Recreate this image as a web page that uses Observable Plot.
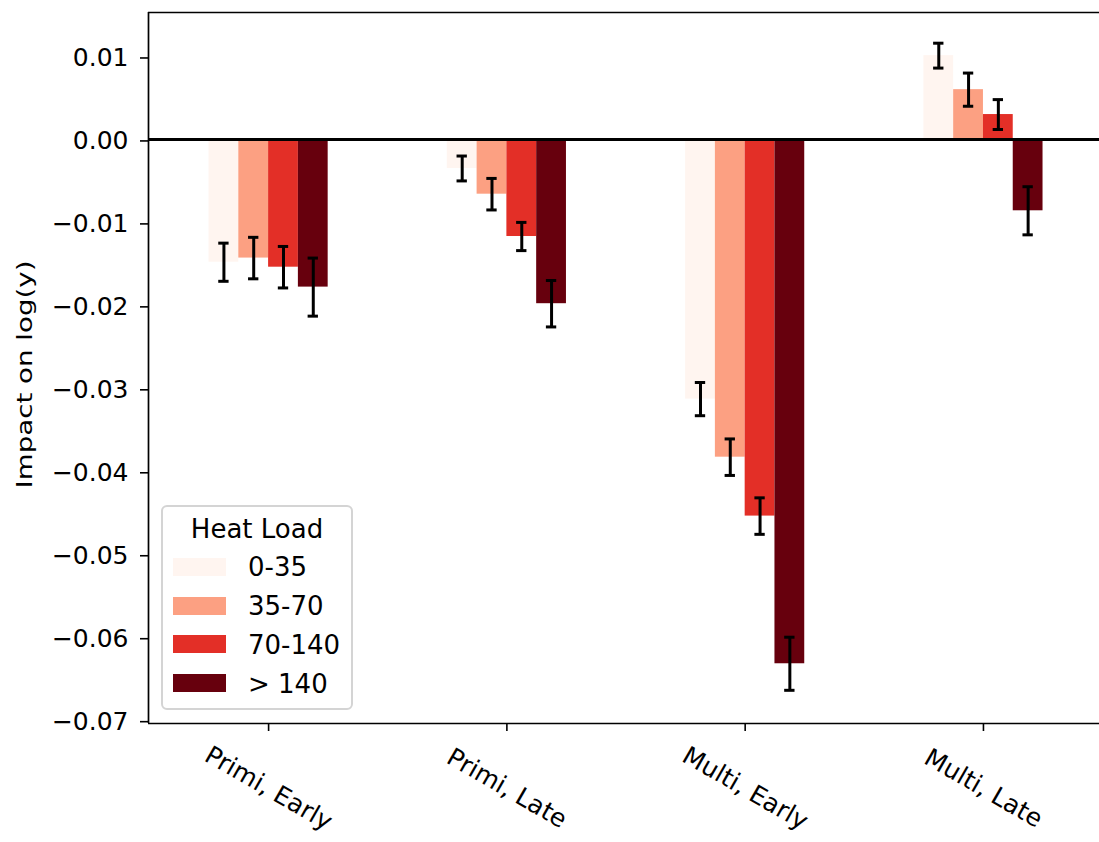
<!DOCTYPE html>
<html>
<head>
<meta charset="utf-8">
<script src="https://cdn.jsdelivr.net/npm/d3@7"></script>
<script src="https://cdn.jsdelivr.net/npm/@observablehq/plot@0.6"></script>
<style>
  html, body { margin: 0; padding: 0; background: #fff; overflow: hidden; }
  #wrap { position: relative; width: 1099px; height: 842px; font-family: "DejaVu Sans", sans-serif; }
  #legend { position: absolute; left: 161px; top: 505px; width: 192px; height: 205px; box-sizing: border-box;
            border: 2px solid #d4d4d4; border-radius: 6px; background: rgba(255,255,255,0.8); }
  #legend div { position: absolute; }
  #legend .lt { font-size: 26px; line-height: 26px; color: #000; white-space: nowrap; }
</style>
</head>
<body>
<div id="wrap"></div>
<script>
// ---- data ----
const categories = ["Primi, Early", "Primi, Late", "Multi, Early", "Multi, Late"];
const heatLoads = ["0-35", "35-70", "70-140", "> 140"];
const colors = ["#fff5f0", "#fca082", "#e32f27", "#67000d"];
const legendTitle = "Heat Load";
const yLabel = "Impact on log(y)";

// estimates per heat load, in category order
const est_0_35   = [-0.0148, -0.0035, -0.0313,  0.0101];
const est_35_70  = [-0.0143, -0.0066, -0.0383,  0.0060];
const est_70_140 = [-0.0154, -0.0117, -0.0454,  0.0030];
const est_gt140  = [-0.0178, -0.0198, -0.0632, -0.0086];
// half-widths of error bars
const err_0_35   = [0.0023, 0.0015, 0.0020, 0.0015];
const err_35_70  = [0.0025, 0.0019, 0.0022, 0.0020];
const err_70_140 = [0.0025, 0.0017, 0.0022, 0.0018];
const err_gt140  = [0.0035, 0.0028, 0.0032, 0.0029];

const yTicks = [0.01, 0.00, -0.01, -0.02, -0.03, -0.04, -0.05, -0.06, -0.07];

// ---- build table ----
const estimates = [est_0_35, est_35_70, est_70_140, est_gt140];
const errors = [err_0_35, err_35_70, err_70_140, err_gt140];
const groupWidth = 0.5;
const barWidth = groupWidth / heatLoads.length;
const rows = [];
categories.forEach((cat, i) => {
  heatLoads.forEach((load, j) => {
    const x1 = i - groupWidth / 2 + j * barWidth;
    rows.push({cat, load, x1, x2: x1 + barWidth, xc: x1 + barWidth / 2,
               value: estimates[j][i], err: errors[j][i]});
  });
});
const capHalf = 0.0217;

const chart = Plot.plot({
  width: 1099,
  height: 842,
  marginLeft: 148,
  marginRight: 0,
  marginTop: 12,
  marginBottom: 119,
  x: {type: "linear", domain: [-0.504, 3.487], axis: null},
  y: {domain: [-0.0704, 0.0153], axis: null},
  color: {domain: heatLoads, range: colors},
  style: {fontFamily: "DejaVu Sans, sans-serif", fontSize: "25px", color: "black", background: "white"},
  marks: [
    Plot.rectY(rows, {x1: "x1", x2: "x2", y1: 0, y2: "value", fill: "load"}),
    Plot.ruleY([0], {stroke: "black", strokeWidth: 3}),
    Plot.ruleX(rows, {x: "xc", y1: d => d.value - d.err, y2: d => d.value + d.err, stroke: "black", strokeWidth: 3}),
    Plot.ruleY(rows, {y: d => d.value - d.err, x1: d => d.xc - capHalf, x2: d => d.xc + capHalf, stroke: "black", strokeWidth: 3}),
    Plot.ruleY(rows, {y: d => d.value + d.err, x1: d => d.xc - capHalf, x2: d => d.xc + capHalf, stroke: "black", strokeWidth: 3}),
    // spines
    Plot.ruleY([-0.0704, 0.0153], {stroke: "black", strokeWidth: 1.7}),
    Plot.ruleX([-0.504], {stroke: "black", strokeWidth: 1.7}),
    // axes
    Plot.axisY(yTicks, {tickSize: 8, tickPadding: 12, dy: 1.5, tickFormat: d3.format(".2f"), fontSize: 25, label: null, strokeWidth: 1.6}),
    Plot.axisX(d3.range(categories.length), {tickSize: 8, tickFormat: () => "", label: null, strokeWidth: 1.6}),
    Plot.text(categories, {x: (d, i) => i, frameAnchor: "bottom", dy: 65, rotate: 30, textAnchor: "middle", lineAnchor: "middle", fontSize: 25}),
    Plot.text([yLabel], {frameAnchor: "left", dx: -124, dy: 6.5, rotate: -90, textAnchor: "middle", lineAnchor: "middle", fontSize: 22})
  ]
});

d3.select(chart).selectAll("text").filter(function () { return this.textContent === yLabel; })
  .attr("textLength", 228).attr("lengthAdjust", "spacingAndGlyphs");

const wrap = document.getElementById("wrap");
wrap.appendChild(chart);

// legend overlay (inside the axes, lower left)
const legend = document.createElement("div");
legend.id = "legend";
const title = document.createElement("div");
title.className = "lt";
title.style.left = "0px"; title.style.width = "100%"; title.style.textAlign = "center"; title.style.top = "9px";
title.textContent = legendTitle;
legend.appendChild(title);
heatLoads.forEach((load, k) => {
  const sw = document.createElement("div");
  sw.style.left = "10px"; sw.style.top = (50.7 + 38.8 * k) + "px";
  sw.style.width = "53px"; sw.style.height = "18px"; sw.style.background = colors[k];
  legend.appendChild(sw);
  const lb = document.createElement("div");
  lb.className = "lt";
  lb.style.left = "85px"; lb.style.top = (47.2 + 38.8 * k) + "px";
  lb.textContent = load;
  legend.appendChild(lb);
});
wrap.appendChild(legend);
</script>
</body>
</html>
